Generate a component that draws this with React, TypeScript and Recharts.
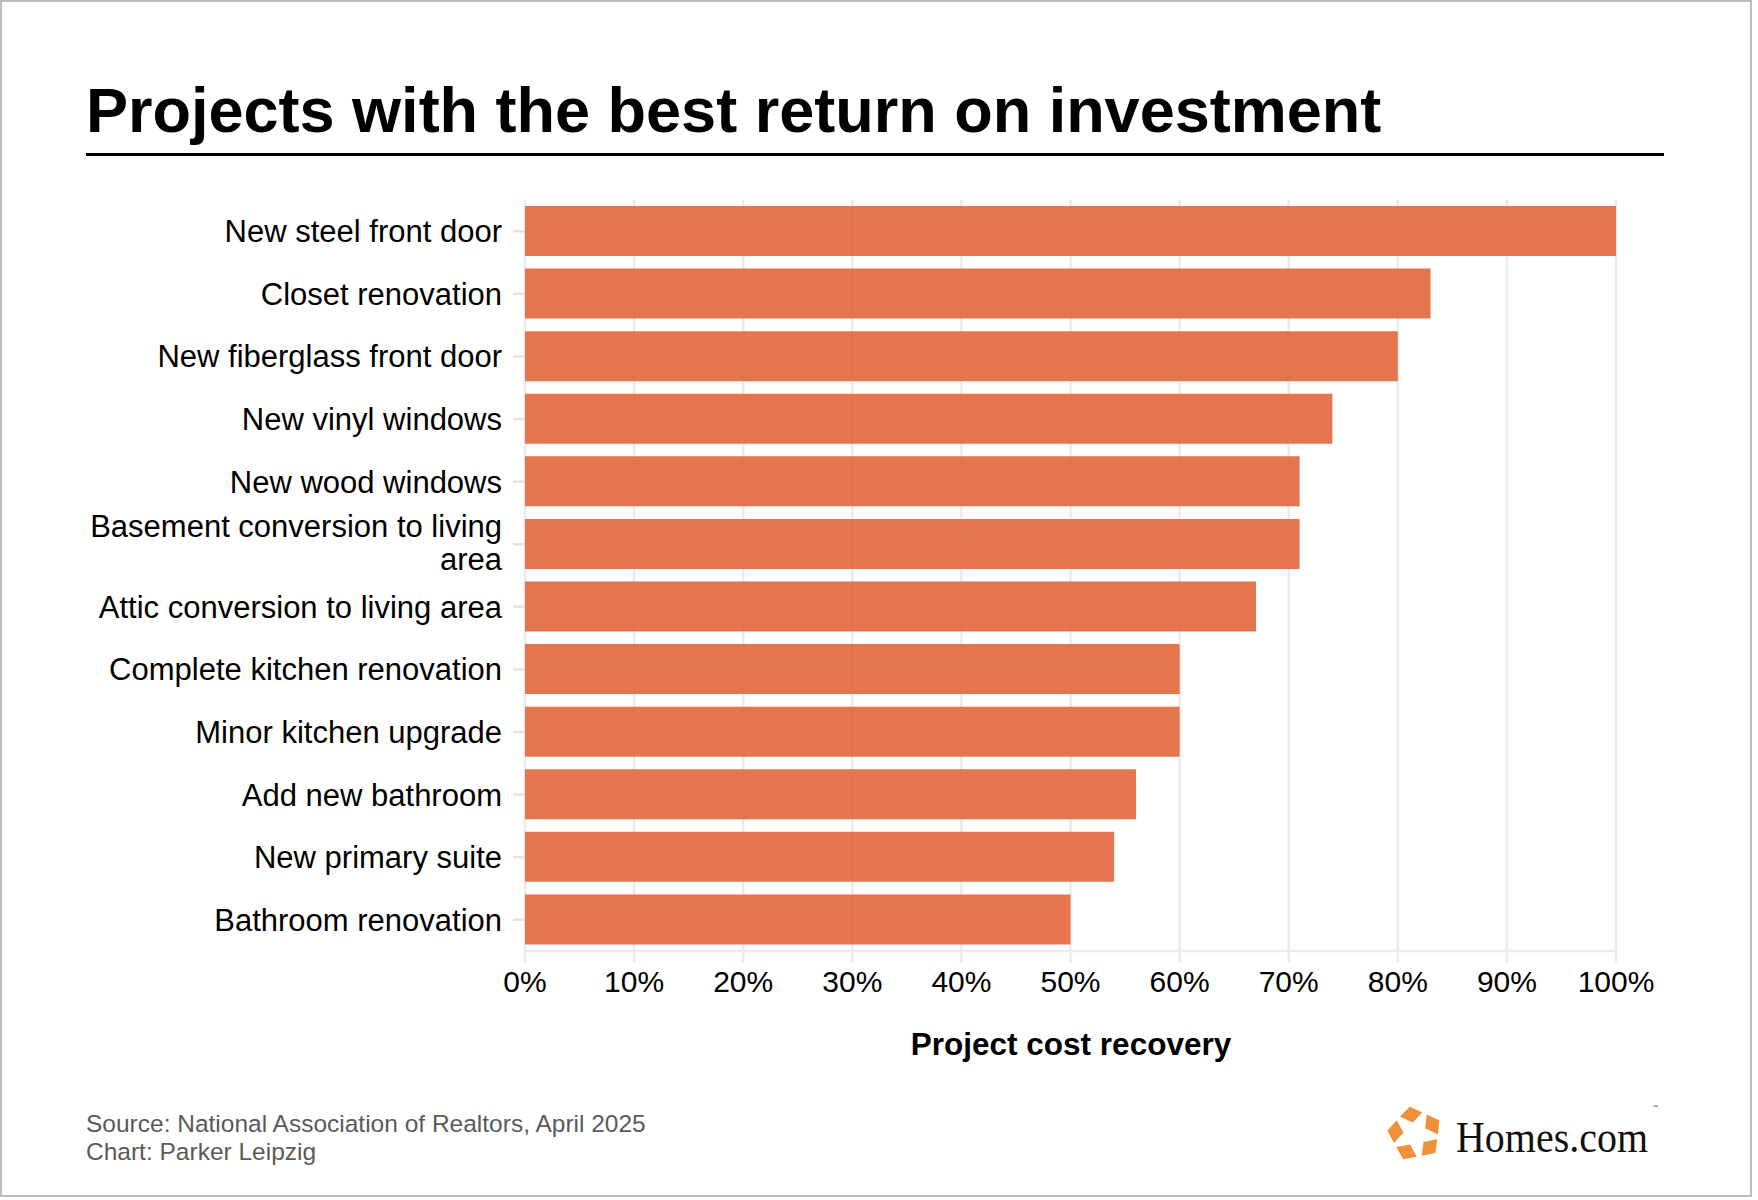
import React from 'react';
import { BarChart, Bar, XAxis, YAxis, CartesianGrid } from 'recharts';

const projects = [
  'New steel front door',
  'Closet renovation',
  'New fiberglass front door',
  'New vinyl windows',
  'New wood windows',
  'Basement conversion to living area',
  'Attic conversion to living area',
  'Complete kitchen renovation',
  'Minor kitchen upgrade',
  'Add new bathroom',
  'New primary suite',
  'Bathroom renovation',
];
const costRecovery = [100, 83, 80, 74, 71, 71, 67, 60, 60, 56, 54, 50];
const xTicks = [0, 10, 20, 30, 40, 50, 60, 70, 80, 90, 100];

const data = projects.map((project, i) => ({ project, recovery: costRecovery[i] }));

const FONT = "'Liberation Sans', Arial, Helvetica, sans-serif";
const GRID = '#ebebeb';
const LABEL_SIZE = 31;
const LINE_H = 33;
const MAX_CHARS = 32;

// greedy word wrap by character count
const wrapLabel = (s: string) => {
  const lines: string[] = [];
  let cur = '';
  s.split(' ').forEach((w) => {
    const next = cur ? `${cur} ${w}` : w;
    if (next.length > MAX_CHARS && cur) {
      lines.push(cur);
      cur = w;
    } else {
      cur = next;
    }
  });
  if (cur) lines.push(cur);
  return lines;
};

const ProjectTick = (props: any) => {
  const { x, y, payload } = props;
  const lines = wrapLabel(String(payload.value));
  const firstBaseline = y - ((lines.length - 1) * LINE_H) / 2 + LABEL_SIZE * 0.355 - (lines.length > 1 ? 2 : 0);
  return (
    <text x={x} y={firstBaseline} textAnchor="end" fill="#000" fontSize={LABEL_SIZE} fontFamily={FONT}>
      {lines.map((line, i) => (
        <tspan key={i} x={x} y={firstBaseline + i * LINE_H}>
          {line}
        </tspan>
      ))}
    </text>
  );
};

// pentagon split into five kites around a star-shaped hole
const polar = (cx: number, cy: number, r: number, deg: number) => {
  const a = (deg * Math.PI) / 180;
  return `${(cx + r * Math.cos(a)).toFixed(2)},${(cy + r * Math.sin(a)).toFixed(2)}`;
};

const LogoMark = ({ cx, cy }: { cx: number; cy: number }) => {
  const pieces = [0, 1, 2, 3, 4].map((k) => {
    const a = -101 + 72 * k;
    return [
      polar(cx, cy, 24.5, a - 36),
      polar(cx, cy, 30, a),
      polar(cx, cy, 24.5, a + 36),
      polar(cx, cy, 9.5, a),
    ].join(' ');
  });
  return (
    <g>
      {pieces.map((p, i) => (
        <polygon key={i} points={p} fill="#f0913a" stroke="#fff" strokeWidth={3.5} strokeLinejoin="miter" />
      ))}
    </g>
  );
};

export default function App() {
  return (
    <div style={{ position: 'absolute', left: 0, top: 0, width: 1758, height: 1200, background: '#fff', fontFamily: FONT }}>
      <div
        style={{
          position: 'absolute',
          left: 0,
          top: 0,
          width: 1752,
          height: 1197,
          border: '2px solid #bdbdbd',
          boxSizing: 'border-box',
        }}
      />
      <div
        style={{
          position: 'absolute',
          left: 86,
          top: 79,
          fontSize: 63,
          lineHeight: '63px',
          fontWeight: 700,
          color: '#000',
          whiteSpace: 'nowrap',
        }}
      >
        Projects with the best return on investment
      </div>
      <div style={{ position: 'absolute', left: 86, top: 153, width: 1578, height: 3, background: '#000' }} />

      <div style={{ position: 'absolute', left: 0, top: 0 }}>
        <BarChart
          width={1758}
          height={1011}
          data={data}
          layout="vertical"
          margin={{ top: 200, right: 142, bottom: 0, left: 0 }}
        >
          <CartesianGrid horizontal={false} stroke={GRID} strokeWidth={2.5} />
          <XAxis
            type="number"
            domain={[0, 100]}
            ticks={xTicks}
            tickFormatter={(v: number) => `${v}%`}
            height={60}
            tickSize={12}
            tickMargin={8}
            axisLine={{ stroke: GRID, strokeWidth: 2.5 }}
            tickLine={{ stroke: GRID, strokeWidth: 2.5 }}
            tick={{ fill: '#000', fontSize: 30, fontFamily: FONT }}
            interval={0}
          />
          <YAxis
            type="category"
            dataKey="project"
            width={525}
            tickSize={12}
            tickMargin={11}
            axisLine={false}
            tickLine={{ stroke: '#e3e3e3', strokeWidth: 2.5 }}
            tick={<ProjectTick />}
            interval={0}
          />
          <Bar dataKey="recovery" fill="#e1663c" fillOpacity={0.9} barSize={50} isAnimationActive={false} />
        </BarChart>
      </div>

      <div
        style={{
          position: 'absolute',
          left: 1071,
          top: 1029,
          transform: 'translateX(-50%)',
          fontSize: 31.5,
          lineHeight: '31.5px',
          fontWeight: 700,
          color: '#000',
          whiteSpace: 'nowrap',
        }}
      >
        Project cost recovery
      </div>

      <div
        style={{
          position: 'absolute',
          left: 86,
          top: 1110,
          fontSize: 24.5,
          lineHeight: '28px',
          color: '#5a5a5a',
          whiteSpace: 'nowrap',
        }}
      >
        <div>Source: National Association of Realtors, April 2025</div>
        <div>Chart: Parker Leipzig</div>
      </div>

      <svg style={{ position: 'absolute', left: 1380, top: 1100 }} width={300} height={80}>
        <LogoMark cx={35} cy={34} />
        <text
          x={76}
          y={52}
          fontFamily="'Liberation Serif', 'Times New Roman', serif"
          fontSize={45}
          fill="#111"
          textLength={192}
          lengthAdjust="spacingAndGlyphs"
        >
          Homes.com
        </text>
        <text x={272} y={9} fontFamily={FONT} fontSize={6} fill="#555">
          ™
        </text>
      </svg>
    </div>
  );
}
